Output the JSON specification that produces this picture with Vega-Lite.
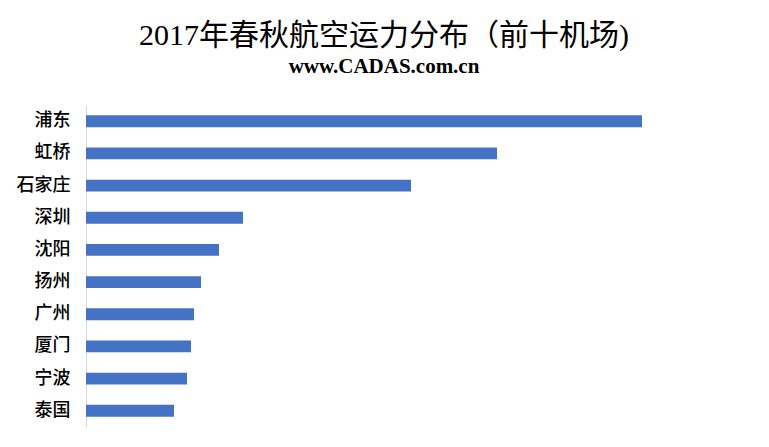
{
  "$schema": "https://vega.github.io/schema/vega-lite/v6.json",
  "width": 556,
  "height": 322,
  "autosize": {"type": "none"},
  "padding": {"left": 86, "top": 105, "right": 127, "bottom": 20},
  "background": "white",
  "title": {
    "text": "2017年春秋航空运力分布（前十机场)",
    "subtitle": "www.CADAS.com.cn",
    "anchor": "middle",
    "dx": 20,
    "offset": 28,
    "font": "Liberation Serif, Noto Sans CJK SC",
    "fontSize": 30,
    "fontWeight": "normal",
    "color": "#000000",
    "subtitleFont": "Liberation Serif",
    "subtitleFontSize": 21,
    "subtitleFontWeight": "bold",
    "subtitleColor": "#000000",
    "subtitlePadding": 5
  },
  "data": {
    "values": [
      {"airport": "浦东", "value": 556},
      {"airport": "虹桥", "value": 411},
      {"airport": "石家庄", "value": 325},
      {"airport": "深圳", "value": 157},
      {"airport": "沈阳", "value": 133},
      {"airport": "扬州", "value": 115},
      {"airport": "广州", "value": 108},
      {"airport": "厦门", "value": 105},
      {"airport": "宁波", "value": 101},
      {"airport": "泰国", "value": 88}
    ]
  },
  "mark": {"type": "bar", "color": "#4472C4"},
  "encoding": {
    "y": {
      "field": "airport",
      "type": "nominal",
      "sort": null,
      "scale": {"paddingInner": 0.63, "paddingOuter": 0.32},
      "axis": {
        "title": null,
        "ticks": false,
        "domainColor": "#d9d9d9",
        "labelFont": "Noto Sans CJK SC",
        "labelFontSize": 18,
        "labelFontWeight": 500,
        "labelColor": "#000000",
        "labelPadding": 16
      }
    },
    "x": {
      "field": "value",
      "type": "quantitative",
      "scale": {"domain": [0, 556], "nice": false},
      "axis": null
    }
  },
  "config": {"view": {"stroke": null}}
}
